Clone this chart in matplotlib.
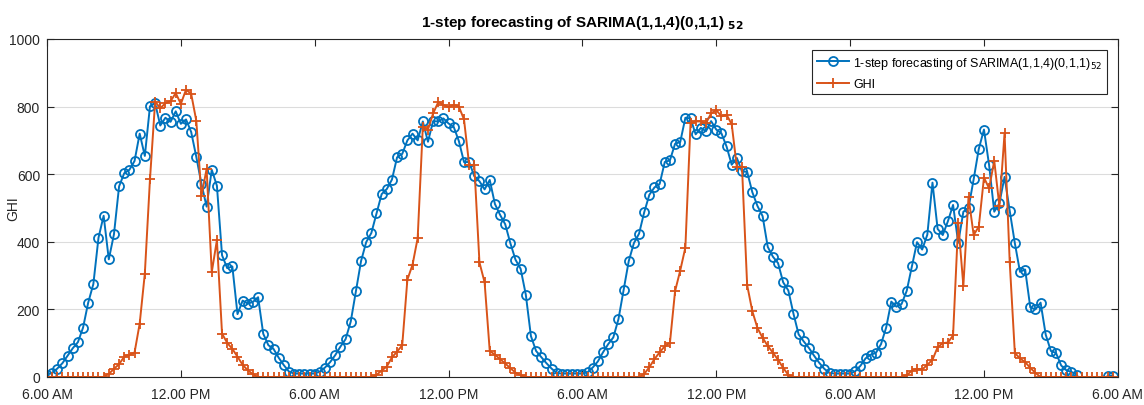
import numpy as np
import matplotlib.pyplot as plt

plt.rcParams['font.family'] = ['Liberation Sans', 'DejaVu Sans']

# forecast values, 52 samples per day, 4 days
forecast = [7, 12, 25, 41, 63, 85, 103, 146, 220, 275,
            412, 477, 348, 422, 564, 603, 613, 639, 720, 654,
            801, 810, 744, 767, 755, 786, 749, 762, 725, 651,
            571, 504, 613, 566, 360, 322, 327, 186, 226, 217,
            222, 236, 128, 94, 83, 57, 35, 16, 10, 10,
            10, 10, 10, 16, 28, 44, 65, 90, 112, 164,
            254, 343, 399, 426, 484, 541, 556, 584, 650, 660,
            700, 720, 700, 756, 696, 757, 756, 765, 750, 740,
            698, 636, 636, 594, 579, 555, 583, 512, 480, 452,
            396, 347, 320, 244, 121, 77, 59, 41, 25, 12,
            10, 10, 10, 10, 10, 14, 28, 46, 73, 97,
            117, 171, 257, 343, 396, 424, 487, 539, 561, 571,
            636, 641, 690, 695, 767, 765, 718, 737, 727, 757,
            732, 721, 682, 628, 648, 608, 607, 547, 506, 476,
            385, 356, 337, 280, 256, 187, 126, 105, 86, 63,
            42, 24, 12, 10, 10, 10, 10, 17, 33, 55,
            66, 71, 97, 146, 223, 208, 216, 255, 327, 399,
            377, 421, 575, 438, 420, 461, 509, 397, 489, 500,
            585, 675, 732, 627, 489, 514, 592, 492, 396, 311,
            318, 206, 200, 220, 125, 77, 71, 34, 20, 15,
            7, -20, -20, -20, -20, -20, 3, 3]

# measured GHI
ghi = ([0]*12 +
       [9, 24, 38, 60, 66, 72, 158, 306,
        585, 815, 795, 810, 816, 840, 808, 850, 838, 758,
        535, 616, 310, 405, 128, 101, 83, 60, 36, 20,
        8] +
       [0]*23 +
       [6, 19, 31, 58, 75, 94,
        288, 332, 411, 740, 732, 780, 813, 805, 798, 805,
        800, 762, 628, 626, 339, 280, 77, 66, 53, 40,
        26, 13, 5] +
       [0]*23 +
       [9, 29, 53, 73,
        91, 101, 254, 315, 383, 751, 756, 756, 751, 780,
        790, 771, 776, 748, 621, 621, 272, 195, 145, 116,
        92, 72, 51, 27, 6] +
       [0]*22 +
       [5, 19, 24, 22, 36, 51, 88,
        100, 102, 123, 456, 270, 532,
        420, 445, 590, 558, 640, 505, 721, 341, 71, 55,
        44, 27, 12] +
       [0]*15)

tick_pos = np.arange(0, 209, 26)
tick_lab = ['6.00 AM', '12.00 PM'] * 4 + ['6.00 AM']

t = np.arange(len(forecast))

fig = plt.figure(figsize=(11.44, 4.06), dpi=100)
ax = fig.add_axes([0.0411, 0.069, 0.936, 0.8325])

ax.plot(t, forecast, '-o', color='#0072BD', lw=1.4, ms=6.5, mfc='none', mew=1.3,
        label=r'1-step forecasting of SARIMA(1,1,4)(0,1,1)$_{52}$')
ax.plot(t, ghi, '-+', color='#D95319', lw=1.4, ms=7, mew=1.3, label='GHI')

ax.set_xlim(0, 208)
ax.set_ylim(0, 1000)
ax.set_xticks(tick_pos)
ax.set_xticklabels(tick_lab)
ax.set_yticks(np.arange(0, 1001, 200))
ax.grid(axis='y', color='#dcdcdc', lw=0.8)
ax.set_axisbelow(True)

ax.tick_params(direction='in', top=True, right=True, length=5, labelsize=10,
               colors='#262626')
ax.tick_params(axis='x', pad=7)
ax.tick_params(axis='y', pad=5)
for s in ax.spines.values():
    s.set_color('#262626')
    s.set_linewidth(0.8)

ax.set_ylabel('GHI', fontsize=10, color='#262626')
ax.yaxis.set_label_coords(-0.025, 0.5)
ax.set_title(r'1-step forecasting of SARIMA(1,1,4)(0,1,1) $_{\mathbf{52}}$',
             fontsize=11, fontweight='bold', pad=9)

leg = ax.legend(loc='upper right', fontsize=9, fancybox=False, framealpha=1,
                edgecolor='#262626', borderaxespad=0.9, handlelength=2.6,
                labelspacing=0.6, borderpad=0.35, handletextpad=0.3)
leg.get_frame().set_linewidth(0.8)

fig.savefig('out.png', dpi=100)
